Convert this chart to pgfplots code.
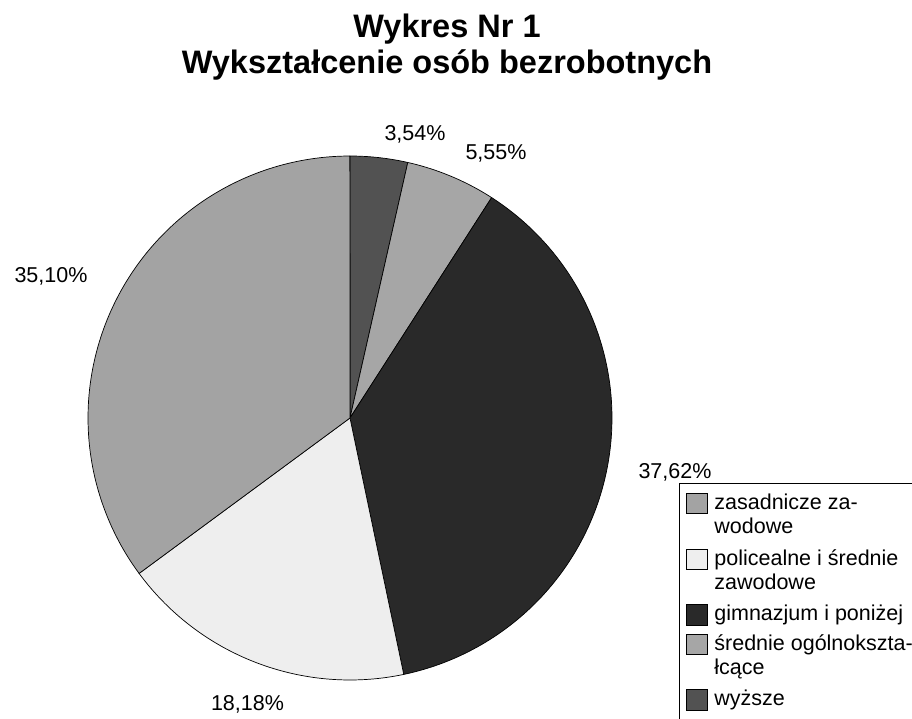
\documentclass[border=0pt]{standalone}
\usepackage{pgfplots}
\pgfplotsset{compat=1.18}
\usepackage{fontspec}
\setmainfont{Liberation Sans}
\definecolor{cWyz}{HTML}{525252}
\definecolor{cSrO}{HTML}{A6A6A6}
\definecolor{cGim}{HTML}{292929}
\definecolor{cPol}{HTML}{EEEEEE}
\definecolor{cZas}{HTML}{A3A3A3}
% shares in percent, clockwise from 12 o'clock
\def\vWyz{3.54}
\def\vSrO{5.55}
\def\vGim{37.62}
\def\vPol{18.18}
\def\vZas{35.10}
\pgfmathsetmacro{\aA}{90}
\pgfmathsetmacro{\aB}{\aA-3.6*\vWyz}
\pgfmathsetmacro{\aC}{\aB-3.6*\vSrO}
\pgfmathsetmacro{\aD}{\aC-3.6*\vGim}
\pgfmathsetmacro{\aE}{\aD-3.6*\vPol}
\pgfmathsetmacro{\aF}{\aE-3.6*\vZas}
\newcommand{\lbl}{\fontsize{21.5bp}{24bp}\selectfont}
\begin{document}
\begin{tikzpicture}
\useasboundingbox (0,0) rectangle (912bp,719bp);
\begin{axis}[
  x=1bp, y=1bp, xmin=0, xmax=912, ymin=0, ymax=719,
  hide axis, clip=false,
  legend image code/.code={\draw[#1,draw=black,line width=0.6bp] (0bp,-4.5bp) rectangle (20.5bp,16bp);},
  reverse legend,
  legend style={at={(679/912,236/719)}, anchor=north west, draw=black, line width=0.6bp,
    fill=white, inner xsep=7bp, inner ysep=9bp, row sep=8bp, column sep=7bp,
    font=\lbl, cells={anchor=base west}, nodes={inner sep=0pt, text depth={}}},
]
\addplot[fill=cWyz, draw=black, line width=0.7bp, domain=\aB:\aA, samples=20] ({350+262*cos(x)},{301+262*sin(x)}) -- (axis cs:350,301) -- cycle;
\addlegendentry{wyższe}
\addplot[fill=cSrO, draw=black, line width=0.7bp, domain=\aC:\aB, samples=30] ({350+262*cos(x)},{301+262*sin(x)}) -- (axis cs:350,301) -- cycle;
\addlegendentry{\begin{tabular}[t]{@{}l@{}}średnie ogólnokszta-\\łcące\end{tabular}}
\addplot[fill=cGim, draw=black, line width=0.7bp, domain=\aD:\aC, samples=120] ({350+262*cos(x)},{301+262*sin(x)}) -- (axis cs:350,301) -- cycle;
\addlegendentry{gimnazjum i poniżej}
\addplot[fill=cPol, draw=black, line width=0.7bp, domain=\aE:\aD, samples=70] ({350+262*cos(x)},{301+262*sin(x)}) -- (axis cs:350,301) -- cycle;
\addlegendentry{\begin{tabular}[t]{@{}l@{}}policealne i średnie\\zawodowe\end{tabular}}
\addplot[fill=cZas, draw=black, line width=0.7bp, domain=\aF:\aE, samples=120] ({350+262*cos(x)},{301+262*sin(x)}) -- (axis cs:350,301) -- cycle;
\addlegendentry{\begin{tabular}[t]{@{}l@{}}zasadnicze za-\\wodowe\end{tabular}}
% data labels
\node[font=\lbl, anchor=base] at (axis cs:415,578.8) {3,54\%};
\node[font=\lbl, anchor=base] at (axis cs:496,559.3) {5,55\%};
\node[font=\lbl, anchor=base] at (axis cs:675,240.3) {37,62\%};
\node[font=\lbl, anchor=base] at (axis cs:247.5,8.3) {18,18\%};
\node[font=\lbl, anchor=base] at (axis cs:51,436.3) {35,10\%};
% title (two lines, baselines at 37 px and 74 px from top)
\node[font=\fontsize{32.5bp}{36.7bp}\selectfont\bfseries, anchor=base] at (axis cs:447,681.7) {Wykres Nr 1};
\node[font=\fontsize{32.5bp}{36.7bp}\selectfont\bfseries, anchor=base] at (axis cs:447,645) {Wykształcenie osób bezrobotnych};
\end{axis}
\end{tikzpicture}
\end{document}
